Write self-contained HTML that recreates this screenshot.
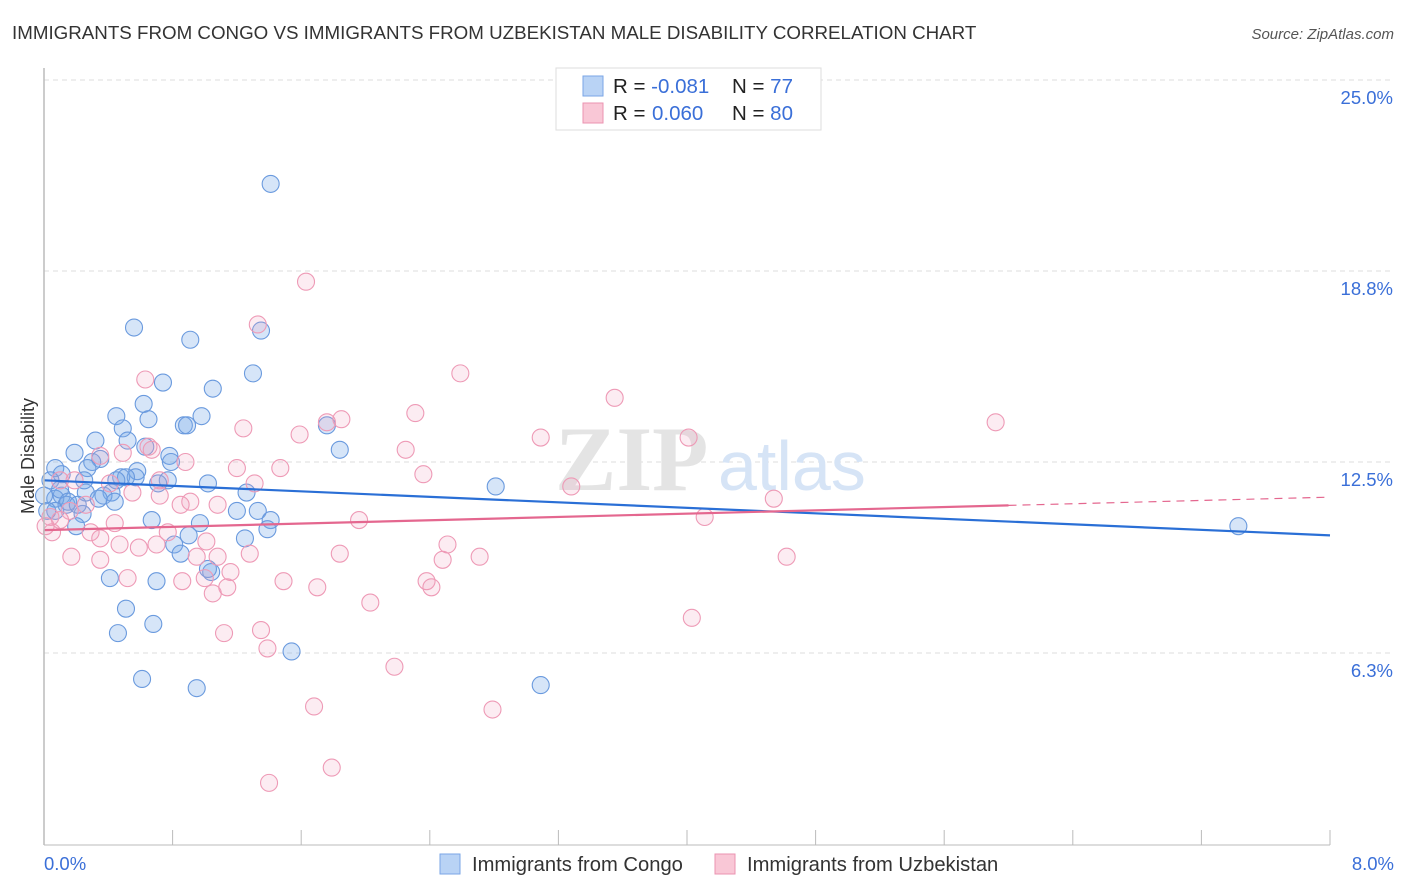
<!DOCTYPE html>
<html><head><meta charset="utf-8"><style>
body{margin:0;background:#fff;font-family:"Liberation Sans",sans-serif}
svg{display:block}
</style></head><body>
<svg id="chart" width="1406" height="892">
<text x="12" y="39" font-size="18.75" fill="#333">IMMIGRANTS FROM CONGO VS IMMIGRANTS FROM UZBEKISTAN MALE DISABILITY CORRELATION CHART</text>
<text x="1394" y="39" font-size="15" fill="#555" font-style="italic" text-anchor="end">Source: ZipAtlas.com</text>
<g id="grid"></g>
<text x="555" y="490" font-size="92" fill="#e4e4e4" font-family="Liberation Serif,serif" font-weight="bold">ZIP</text>
<text x="718" y="490" font-size="70" fill="#d6e4f6">atlas</text>
<g id="points"></g>
<g id="trends"></g>
<line x1="44" y1="68" x2="44" y2="845" stroke="#bbb" stroke-width="1.5"/>
<line x1="44" y1="845" x2="1330" y2="845" stroke="#bbb" stroke-width="1"/>
<text transform="translate(34,456) rotate(-90)" font-size="18" fill="#333" text-anchor="middle">Male Disability</text>
<text x="44" y="870" font-size="18.5" fill="#3a6fd8">0.0%</text>
<text x="1394" y="870" font-size="18.5" fill="#3a6fd8" text-anchor="end">8.0%</text>
<g>
<rect x="556" y="68" width="265" height="62" fill="#fff" stroke="#ddd"/>
<rect x="583" y="76" width="20" height="20" fill="#b9d3f5" stroke="#7aa6e6"/>
<rect x="583" y="103" width="20" height="20" fill="#f9c7d6" stroke="#eb93b0"/>
<text x="613" y="93" font-size="20.5" fill="#222">R = <tspan fill="#3a6fd8">-0.081</tspan><tspan x="732">N = </tspan><tspan fill="#3a6fd8">77</tspan></text>
<text x="613" y="120" font-size="20.5" fill="#222">R = <tspan x="652" fill="#3a6fd8">0.060</tspan><tspan x="732">N = </tspan><tspan fill="#3a6fd8">80</tspan></text>
</g>
<g>
<rect x="440" y="854" width="20" height="20" fill="#b9d3f5" stroke="#7aa6e6"/>
<text x="472" y="871" font-size="20.2" fill="#333">Immigrants from Congo</text>
<rect x="715" y="854" width="20" height="20" fill="#f9c7d6" stroke="#eb93b0"/>
<text x="747" y="871" font-size="20.2" fill="#333">Immigrants from Uzbekistan</text>
</g>
</svg>
<script>
const yTicks=[6.25,12.5,18.75,25];
const yTickLabels=["6.3%","12.5%","18.8%","25.0%"];
const xTicks=[0,0.8,1.6,2.4,3.2,4,4.8,5.6,6.4,7.2,8];
const congoX=[1.41,0.56,0.91,1.35,1.30,0.74,1.05,0.62,0.45,0.65,0.98,0.87,0.89,0.49,0.32,0.52,0.19,0.35,0.63,1.76,1.84,0.78,0.79,0.30,0.07,0.11,0.27,0.58,0.48,0.57,0.77,1.02,2.81,0.42,0.71,0.26,0.37,0.11,0.07,0.14,0.44,1.26,1.20,1.33,1.41,0.67,0.97,0.07,0.24,0.20,1.39,1.25,0.90,0.81,0.85,0.41,0.70,1.04,0.51,0.68,0.46,1.54,0.61,0.95,3.09,7.43,0.02,0.0,0.04,0.10,0.15,0.21,1.02,0.34,0.25,0.51,0.45];
const congoY=[21.6,16.9,16.5,16.8,15.4,15.1,14.9,14.4,14.0,13.9,14.0,13.7,13.7,13.6,13.2,13.2,12.8,12.6,13.0,13.7,12.9,12.7,12.5,12.5,12.3,12.1,12.3,12.2,12.0,12.0,11.9,11.8,11.7,11.5,11.8,11.5,11.4,11.4,11.3,11.1,11.2,11.5,10.9,10.9,10.6,10.6,10.5,10.9,10.8,10.4,10.3,10.0,10.1,9.8,9.5,8.7,8.6,8.9,7.7,7.2,6.9,6.3,5.4,5.1,5.2,10.4,10.9,11.4,11.9,11.6,11.2,11.1,9.0,11.3,11.9,12.0,11.9];
const uzbX=[1.63,1.33,0.63,2.59,3.55,5.92,2.31,1.85,1.76,1.24,1.59,3.09,4.01,0.65,0.67,2.25,0.49,0.88,1.20,1.47,2.36,0.72,0.41,1.31,3.28,4.54,4.11,0.72,0.91,0.55,0.26,0.44,1.96,0.04,0.16,0.10,0.29,0.05,0.35,0.47,0.59,0.70,1.01,1.08,0.77,0.95,1.84,2.51,2.71,2.48,4.62,0.17,0.35,0.52,0.86,1.16,1.49,1.70,1.00,1.05,1.14,2.38,2.41,2.03,1.12,1.35,4.03,1.39,2.18,1.68,2.79,1.79,1.40,0.10,0.01,0.19,0.35,1.08,1.28,0.85];
const uzbY=[18.4,17.0,15.2,15.4,14.6,13.8,14.1,13.9,13.8,13.6,13.4,13.3,13.3,13.0,12.9,12.9,12.8,12.5,12.3,12.3,12.1,11.9,11.8,11.8,11.7,11.3,10.7,11.4,11.2,11.5,11.1,10.5,10.6,10.7,10.9,10.6,10.2,10.2,10.0,9.8,9.7,9.8,9.9,9.4,10.2,9.4,9.5,9.8,9.4,9.3,9.4,9.4,9.3,8.7,8.6,8.9,8.6,8.4,8.7,8.2,8.4,8.6,8.4,7.9,6.9,7.0,7.4,6.4,5.8,4.5,4.4,2.5,2.0,11.9,10.4,11.9,12.7,11.1,9.5,11.1];
const congoTrend=[11.9,10.1];
const uzbTrend=[10.27,11.35];
const uzbSolidEnd=6.0;

const NS="http://www.w3.org/2000/svg";
const X0=44,X1=1330,Y0=844,Y25=80;
const xs=v=>X0+(v/8)*(X1-X0);
const ys=v=>Y0-(v/25)*(Y0-Y25);
function mk(tag,attrs,parent){const e=document.createElementNS(NS,tag);for(const k in attrs)e.setAttribute(k,attrs[k]);parent.appendChild(e);return e;}
const grid=document.getElementById('grid');
yTicks.forEach((t,i)=>{
  const l=mk('line',{x1:X0,x2:1393,y1:ys(t),y2:ys(t),stroke:'#ddd','stroke-dasharray':'5,4'},grid);
  
  
  const tx=mk('text',{x:1393,y:ys(t)+24,'font-size':18.5,fill:'#3a6fd8','text-anchor':'end'},grid);
  tx.textContent=yTickLabels[i];
  
  
});
xTicks.forEach(t=>{
  const l=mk('line',{x1:xs(t),x2:xs(t),y1:830,y2:845,stroke:'#bbb'},grid);
  
  
});
const pts=document.getElementById('points');
congoX.forEach((x,i)=>{
  const c=mk('circle',{cx:xs(x),cy:ys(congoY[i]),r:8.5,fill:'rgba(120,168,232,0.3)',stroke:'#6a9ade','stroke-width':1.1},pts);
  
  
});
uzbX.forEach((x,i)=>{
  const c=mk('circle',{cx:xs(x),cy:ys(uzbY[i]),r:8.5,fill:'rgba(242,160,188,0.2)',stroke:'#ee9ab6','stroke-width':1.1},pts);
  
  
});
const tr=document.getElementById('trends');
const bl=mk('line',{x1:xs(0),y1:ys(congoTrend[0]),x2:xs(8),y2:ys(congoTrend[1]),stroke:'#2a6fd6','stroke-width':2.2},tr);


const pm=uzbTrend[0]+(uzbTrend[1]-uzbTrend[0])*uzbSolidEnd/8;
const pl=mk('line',{x1:xs(0),y1:ys(uzbTrend[0]),x2:xs(uzbSolidEnd),y2:ys(pm),stroke:'#e4678f','stroke-width':2.2},tr);


const pd=mk('line',{x1:xs(uzbSolidEnd),y1:ys(pm),x2:xs(8),y2:ys(uzbTrend[1]),stroke:'#e4678f','stroke-width':1.2,'stroke-dasharray':'8,6'},tr);


</script>
</body></html>
